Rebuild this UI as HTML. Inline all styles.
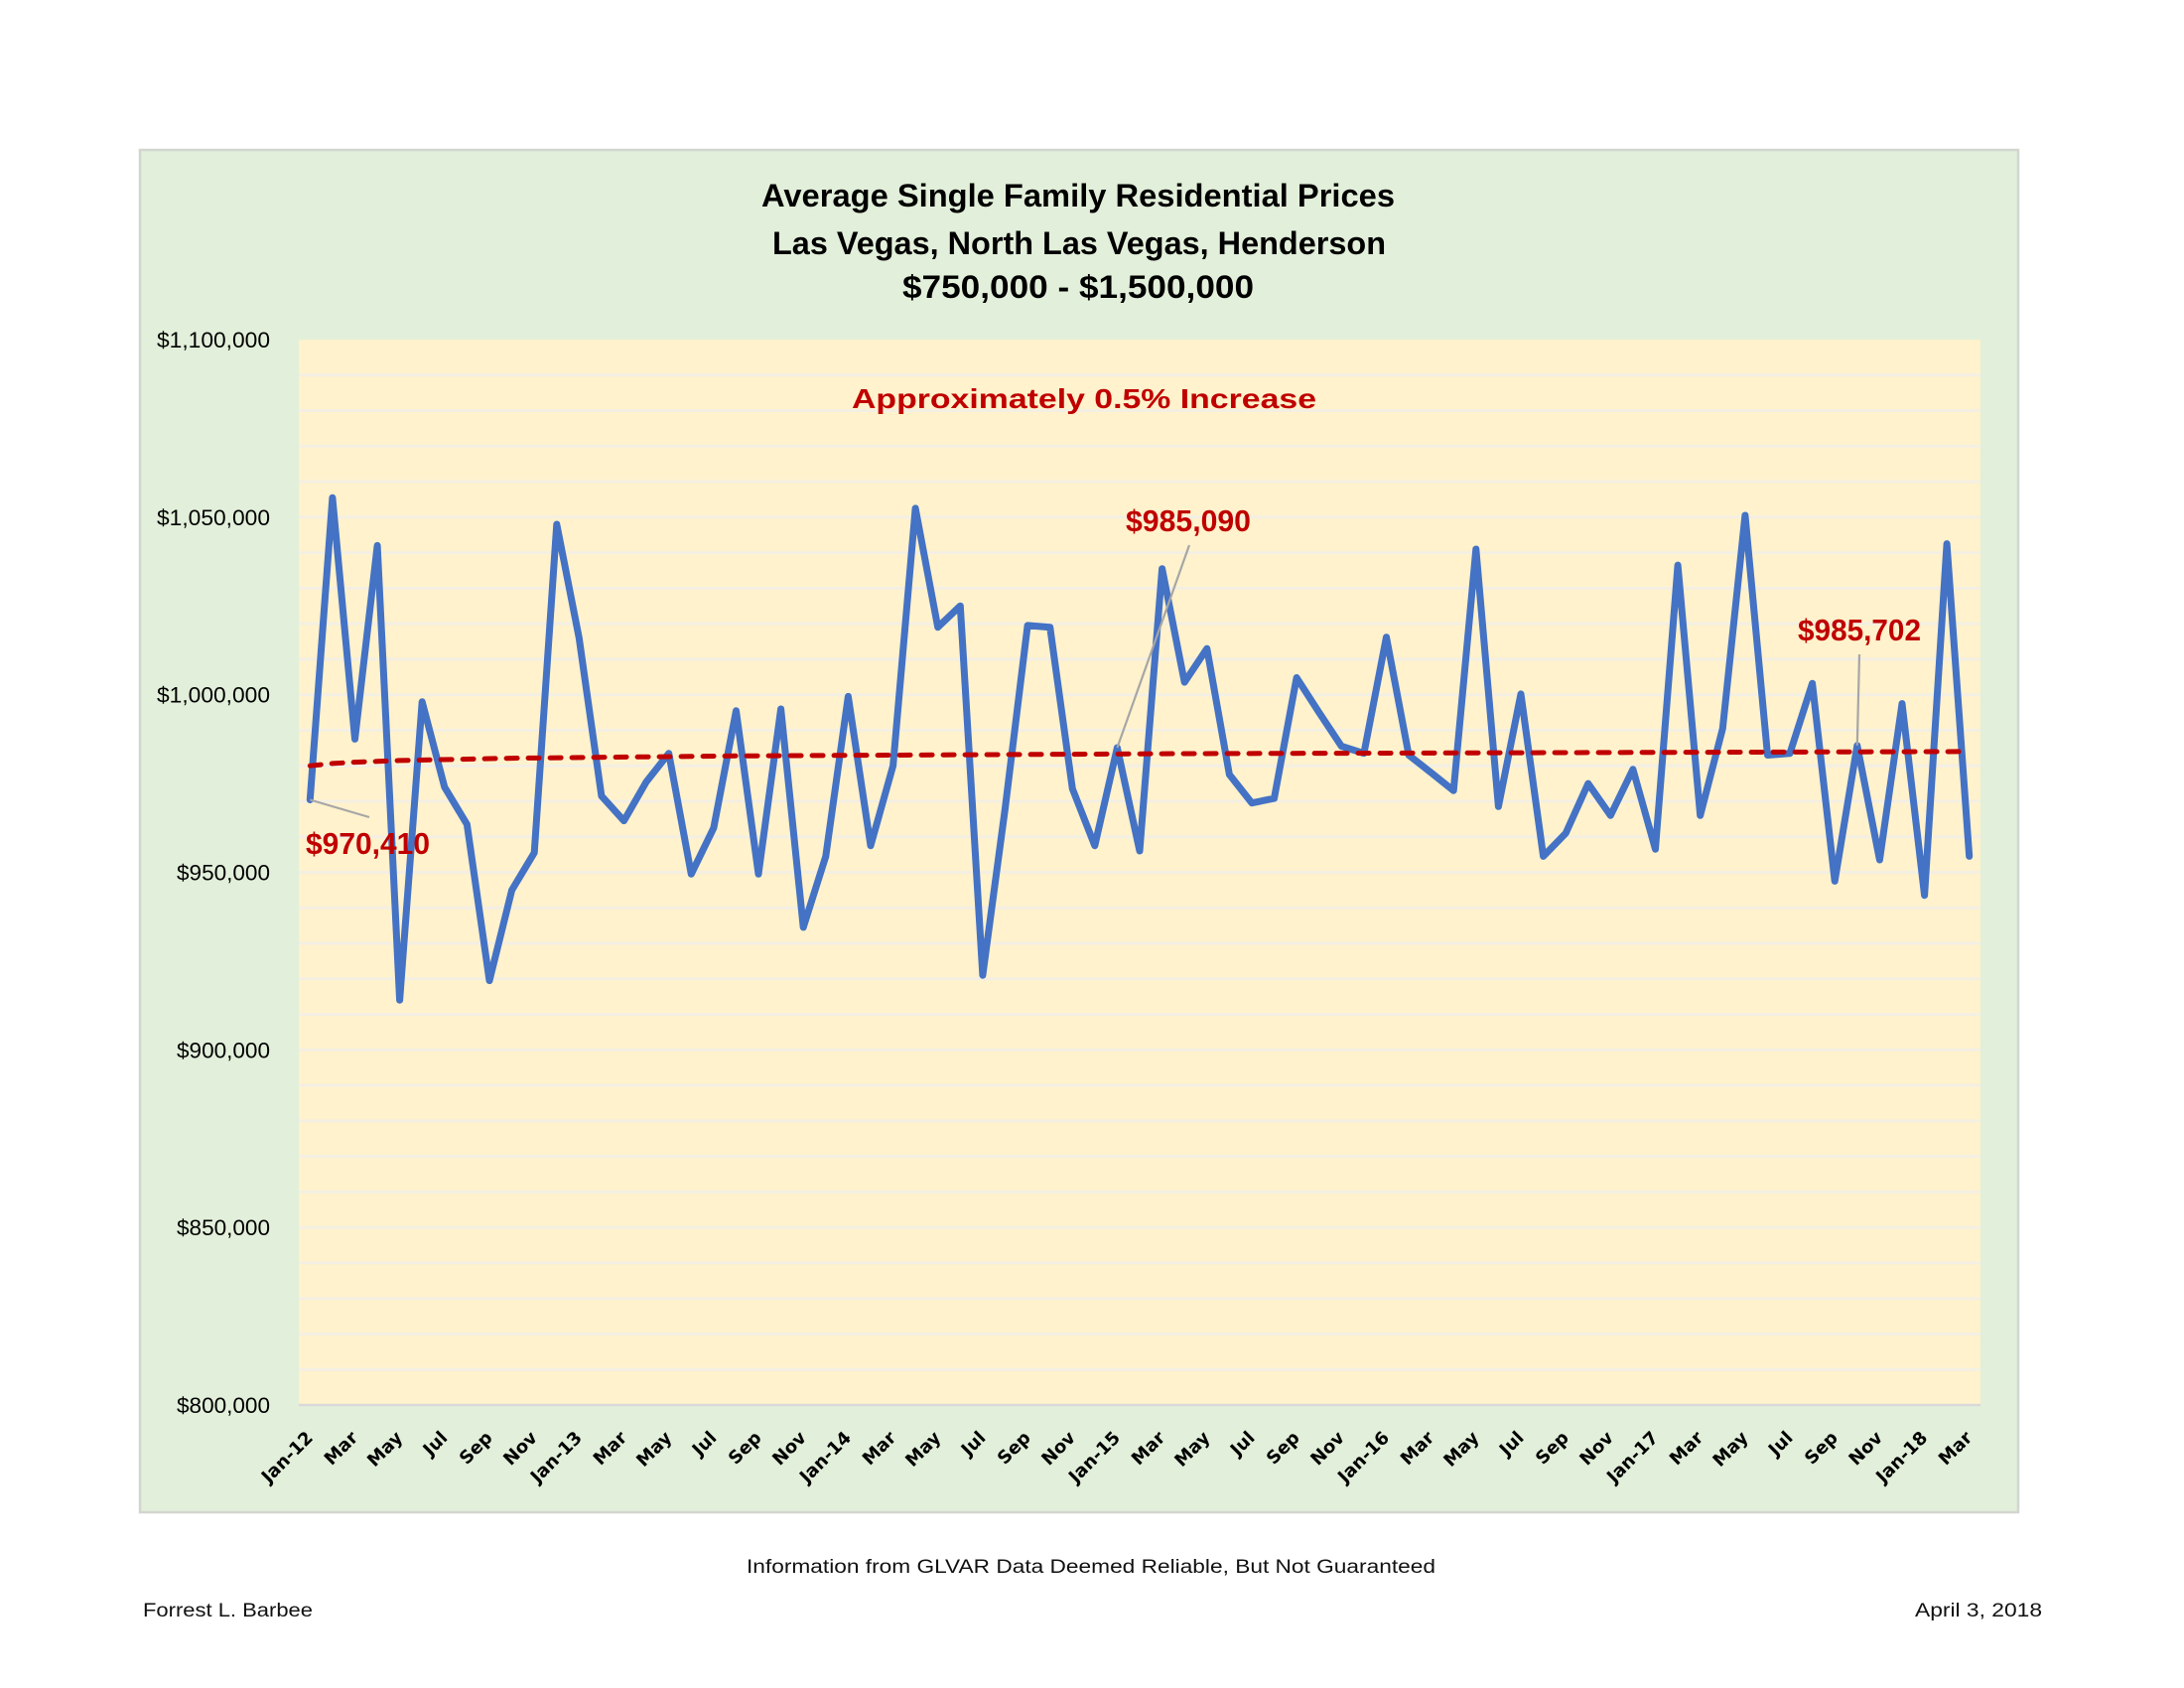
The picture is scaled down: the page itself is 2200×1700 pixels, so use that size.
<!DOCTYPE html>
<html><head><meta charset="utf-8"><style>
html,body{margin:0;padding:0;background:#fff;}
svg{display:block;}
</style></head><body>
<svg xmlns="http://www.w3.org/2000/svg" width="2200" height="1700" viewBox="0 0 2200 1700">
<rect x="0" y="0" width="2200" height="1700" fill="#ffffff"/>
<!-- chart area -->
<rect x="141" y="151" width="1892" height="1372" fill="#e2efda" stroke="#d3d6d0" stroke-width="2.5"/>
<!-- plot area -->
<rect x="301" y="342" width="1694" height="1073" fill="#fff2cc"/>
<path fill="none" stroke="#f4efe3" stroke-width="3" d="M301 1379.2H1995M301 1343.5H1995M301 1307.7H1995M301 1271.9H1995M301 1236.2H1995M301 1200.4H1995M301 1164.6H1995M301 1128.9H1995M301 1093.1H1995M301 1057.3H1995M301 1021.6H1995M301 985.8H1995M301 950H1995M301 914.3H1995M301 878.5H1995M301 842.7H1995M301 807H1995M301 771.2H1995M301 735.4H1995M301 699.7H1995M301 663.9H1995M301 628.1H1995M301 592.4H1995M301 556.6H1995M301 520.8H1995M301 485.1H1995M301 449.3H1995M301 413.5H1995M301 377.8H1995"/>
<line x1="301" y1="1415" x2="1995" y2="1415" stroke="#d9d9d9" stroke-width="2.5"/>

<!-- titles -->
<g font-family="'Liberation Sans', Arial, sans-serif" font-weight="bold" fill="#000" text-anchor="start">
<text x="767" y="208" font-size="32" textLength="638" lengthAdjust="spacingAndGlyphs">Average Single Family Residential Prices</text>
<text x="778" y="256" font-size="32" textLength="618" lengthAdjust="spacingAndGlyphs">Las Vegas, North Las Vegas, Henderson</text>
<text x="909" y="300" font-size="32" textLength="354" lengthAdjust="spacingAndGlyphs">$750,000 - $1,500,000</text>
<text x="858" y="411" font-size="28" fill="#c00000" textLength="468" lengthAdjust="spacingAndGlyphs">Approximately 0.5% Increase</text>
</g>

<!-- y axis labels -->
<g font-family="'Liberation Sans', Arial, sans-serif" font-size="22" fill="#000" text-anchor="end">
<text x="272" y="350" textLength="114" lengthAdjust="spacingAndGlyphs">$1,100,000</text>
<text x="272" y="528.8" textLength="114" lengthAdjust="spacingAndGlyphs">$1,050,000</text>
<text x="272" y="707.7" textLength="114" lengthAdjust="spacingAndGlyphs">$1,000,000</text>
<text x="272" y="886.5" textLength="94" lengthAdjust="spacingAndGlyphs">$950,000</text>
<text x="272" y="1065.3" textLength="94" lengthAdjust="spacingAndGlyphs">$900,000</text>
<text x="272" y="1244.2" textLength="94" lengthAdjust="spacingAndGlyphs">$850,000</text>
<text x="272" y="1423" textLength="94" lengthAdjust="spacingAndGlyphs">$800,000</text>
</g>

<!-- x axis labels -->
<g font-family="'DejaVu Sans', Verdana, sans-serif" font-weight="bold" font-size="18" fill="#000" text-anchor="end">
<text transform="translate(316.3,1449) rotate(-45)">Jan-12</text>
<text transform="translate(361.5,1449) rotate(-45)">Mar</text>
<text transform="translate(406.6,1449) rotate(-45)">May</text>
<text transform="translate(451.8,1449) rotate(-45)">Jul</text>
<text transform="translate(497.0,1449) rotate(-45)">Sep</text>
<text transform="translate(542.2,1449) rotate(-45)">Nov</text>
<text transform="translate(587.3,1449) rotate(-45)">Jan-13</text>
<text transform="translate(632.5,1449) rotate(-45)">Mar</text>
<text transform="translate(677.7,1449) rotate(-45)">May</text>
<text transform="translate(722.9,1449) rotate(-45)">Jul</text>
<text transform="translate(768.0,1449) rotate(-45)">Sep</text>
<text transform="translate(813.2,1449) rotate(-45)">Nov</text>
<text transform="translate(858.4,1449) rotate(-45)">Jan-14</text>
<text transform="translate(903.6,1449) rotate(-45)">Mar</text>
<text transform="translate(948.7,1449) rotate(-45)">May</text>
<text transform="translate(993.9,1449) rotate(-45)">Jul</text>
<text transform="translate(1039.1,1449) rotate(-45)">Sep</text>
<text transform="translate(1084.3,1449) rotate(-45)">Nov</text>
<text transform="translate(1129.4,1449) rotate(-45)">Jan-15</text>
<text transform="translate(1174.6,1449) rotate(-45)">Mar</text>
<text transform="translate(1219.8,1449) rotate(-45)">May</text>
<text transform="translate(1265.0,1449) rotate(-45)">Jul</text>
<text transform="translate(1310.1,1449) rotate(-45)">Sep</text>
<text transform="translate(1355.3,1449) rotate(-45)">Nov</text>
<text transform="translate(1400.5,1449) rotate(-45)">Jan-16</text>
<text transform="translate(1445.7,1449) rotate(-45)">Mar</text>
<text transform="translate(1490.8,1449) rotate(-45)">May</text>
<text transform="translate(1536.0,1449) rotate(-45)">Jul</text>
<text transform="translate(1581.2,1449) rotate(-45)">Sep</text>
<text transform="translate(1626.3,1449) rotate(-45)">Nov</text>
<text transform="translate(1671.5,1449) rotate(-45)">Jan-17</text>
<text transform="translate(1716.7,1449) rotate(-45)">Mar</text>
<text transform="translate(1761.9,1449) rotate(-45)">May</text>
<text transform="translate(1807.0,1449) rotate(-45)">Jul</text>
<text transform="translate(1852.2,1449) rotate(-45)">Sep</text>
<text transform="translate(1897.4,1449) rotate(-45)">Nov</text>
<text transform="translate(1942.6,1449) rotate(-45)">Jan-18</text>
<text transform="translate(1987.7,1449) rotate(-45)">Mar</text>
</g>

<!-- data series -->
<polyline fill="none" stroke="#4472c4" stroke-width="7" stroke-linejoin="round" stroke-linecap="round" points="312.3,805.5 334.9,501.2 357.5,744.4 380.1,549.4 402.6,1007.3 425.2,706.8 447.8,792.7 470.4,830.2 493.0,987.6 515.6,896.4 538.2,858.8 560.8,528.0 583.3,642.4 605.9,801.6 628.5,826.6 651.1,787.3 673.7,758.7 696.3,880.3 718.9,833.8 741.5,715.8 764.0,880.3 786.6,714.0 809.2,933.9 831.8,862.4 854.4,701.4 877.0,851.7 899.6,771.2 922.1,511.9 944.7,631.7 967.3,610.2 989.9,982.2 1012.5,814.1 1035.1,629.9 1057.7,631.7 1080.3,794.4 1102.8,851.7 1125.4,753.0 1148.0,857.0 1170.6,572.7 1193.2,687.1 1215.8,653.2 1238.4,780.1 1261.0,808.7 1283.5,804.1 1306.1,682.5 1328.7,717.5 1351.3,751.5 1373.9,758.7 1396.5,641.7 1419.1,760.5 1441.7,778.3 1464.2,796.2 1486.8,553.0 1509.4,812.3 1532.0,698.9 1554.6,862.4 1577.2,839.2 1599.8,789.1 1622.3,821.3 1644.9,774.8 1667.5,855.2 1690.1,569.1 1712.7,821.3 1735.3,733.6 1757.9,519.0 1780.5,760.5 1803.0,758.7 1825.6,688.2 1848.2,887.4 1870.8,750.8 1893.4,866.0 1916.0,708.6 1938.6,901.7 1961.1,547.6 1983.7,862.4"/>

<!-- trend line -->
<polyline fill="none" stroke="#c00000" stroke-width="5" stroke-linecap="round" stroke-dasharray="11 11" points="312.3,771.2 334.9,768.9 357.5,767.6 402.6,765.9 515.6,763.6 741.5,761.3 1193.2,759.0 1983.7,756.9"/>

<!-- leader lines -->
<g stroke="#a6a6a6" stroke-width="2.2" fill="none">
<line x1="312.3" y1="805.5" x2="372" y2="823"/>
<line x1="1125.4" y1="753" x2="1198" y2="549"/>
<line x1="1870.8" y1="750.8" x2="1873" y2="659"/>
</g>

<!-- data labels -->
<g font-family="'Liberation Sans', Arial, sans-serif" font-weight="bold" font-size="31" fill="#c00000">
<text x="308" y="860" textLength="125" lengthAdjust="spacingAndGlyphs">$970,410</text>
<text x="1134" y="535" textLength="126" lengthAdjust="spacingAndGlyphs">$985,090</text>
<text x="1811" y="645" textLength="124" lengthAdjust="spacingAndGlyphs">$985,702</text>
</g>

<!-- footer -->
<g font-family="'Liberation Sans', Arial, sans-serif" font-size="19" fill="#111">
<text x="752" y="1584" textLength="694" lengthAdjust="spacingAndGlyphs">Information from GLVAR Data Deemed Reliable, But Not Guaranteed</text>
<text x="144" y="1628" textLength="171" lengthAdjust="spacingAndGlyphs">Forrest L. Barbee</text>
<text x="1929" y="1628" textLength="128" lengthAdjust="spacingAndGlyphs">April 3, 2018</text>
</g>
</svg>
</body></html>
